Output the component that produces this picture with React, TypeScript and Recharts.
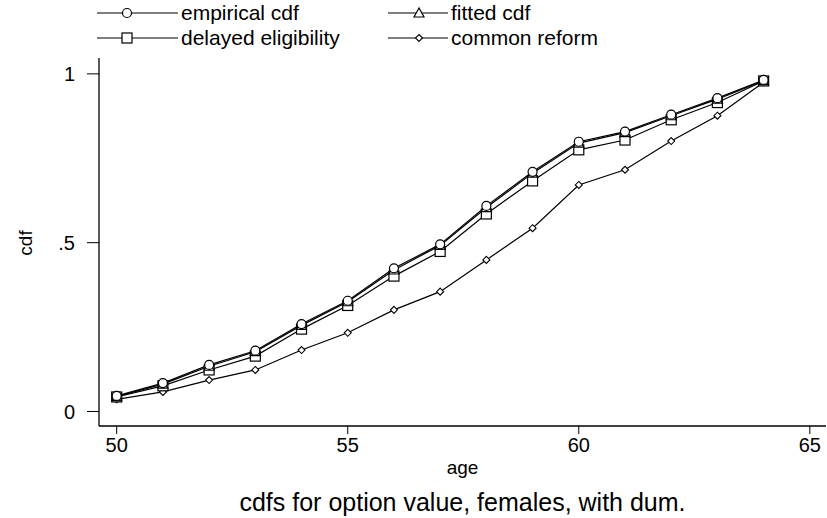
import React from 'react';
import { LineChart, Line, XAxis, YAxis } from 'recharts';

// ---------------------------------------------------------------------------
// data
// ---------------------------------------------------------------------------
const ages = [50, 51, 52, 53, 54, 55, 56, 57, 58, 59, 60, 61, 62, 63, 64];
const empirical = [0.046, 0.084, 0.138, 0.18, 0.259, 0.328, 0.424, 0.495, 0.609, 0.71, 0.799, 0.829, 0.879, 0.928, 0.982];
const fitted = [0.044, 0.081, 0.134, 0.177, 0.255, 0.325, 0.419, 0.492, 0.604, 0.706, 0.795, 0.826, 0.876, 0.925, 0.98];
const delayed = [0.043, 0.076, 0.123, 0.164, 0.244, 0.314, 0.401, 0.474, 0.585, 0.683, 0.775, 0.804, 0.864, 0.915, 0.979];
const reform = [0.036, 0.058, 0.093, 0.123, 0.182, 0.233, 0.301, 0.355, 0.449, 0.543, 0.671, 0.716, 0.801, 0.876, 0.975];

const xTicks = [50, 55, 60, 65];
const yTicks = [0, 0.5, 1];
const yTickLabels: Record<string, string> = { '0': '0', '0.5': '.5', '1': '1' };

const data = ages.map((age, i) => ({
  age,
  empirical: empirical[i],
  fitted: fitted[i],
  delayed: delayed[i],
  reform: reform[i],
}));

const FONT = '"Liberation Sans", Arial, Helvetica, sans-serif';
const FS = 20;
const LEGEND_FS = 21;
const CAPTION_FS = 25;

// ---------------------------------------------------------------------------
// marker shapes
// ---------------------------------------------------------------------------
const circle = (cx: number, cy: number, key?: any) => (
  <circle key={key} cx={cx} cy={cy} r={4.5} fill="#fff" stroke="#000" strokeWidth={1.2} />
);
const triangle = (cx: number, cy: number, key?: any) => (
  <polygon
    key={key}
    points={`${cx},${cy - 5} ${cx - 5},${cy + 4} ${cx + 5},${cy + 4}`}
    fill="#fff"
    stroke="#000"
    strokeWidth={1.2}
  />
);
const square = (cx: number, cy: number, key?: any) => (
  <rect key={key} x={cx - 5} y={cy - 5} width={10} height={10} fill="#fff" stroke="#000" strokeWidth={1.2} />
);
const diamond = (cx: number, cy: number, key?: any) => (
  <polygon
    key={key}
    points={`${cx},${cy - 3.5} ${cx + 3.5},${cy} ${cx},${cy + 3.5} ${cx - 3.5},${cy}`}
    fill="#fff"
    stroke="#000"
    strokeWidth={1.1}
  />
);

const dotOf = (shape: (cx: number, cy: number, key?: any) => React.ReactElement) => (p: any) =>
  shape(p.cx, p.cy, `${p.dataKey}-${p.index}`);

// ---------------------------------------------------------------------------
// legend (2 x 2 grid at the top)
// ---------------------------------------------------------------------------
const legendItems = [
  { label: 'empirical cdf', shape: circle, x1: 97, x2: 178, sx: 127, y: 13 },
  { label: 'fitted cdf', shape: triangle, x1: 388, x2: 448, sx: 419, y: 13 },
  { label: 'delayed eligibility', shape: square, x1: 97, x2: 178, sx: 127, y: 38 },
  { label: 'common reform', shape: diamond, x1: 388, x2: 448, sx: 419, y: 38 },
];

const TopLegend = () => (
  <svg width={827} height={54} style={{ position: 'absolute', left: 0, top: 0 }}>
    {legendItems.map((it) => (
      <g key={it.label}>
        <line x1={it.x1} x2={it.x2} y1={it.y} y2={it.y} stroke="#000" strokeWidth={1.2} />
        {it.shape(it.sx, it.y)}
        <text x={it.x2 + 3} y={it.y} dy="0.35em" fontSize={LEGEND_FS} fontFamily={FONT} fill="#000">
          {it.label}
        </text>
      </g>
    ))}
  </svg>
);

export default function App() {
  return (
    <div style={{ position: 'absolute', left: 0, top: 0, width: 827, height: 518, background: '#fff', fontFamily: FONT }}>
      <LineChart width={827} height={518} data={data} margin={{ top: 58, right: 1, bottom: 0, left: 0 }}>
        <XAxis
          dataKey="age"
          type="number"
          domain={[49.617, 65.35]}
          ticks={xTicks}
          allowDataOverflow
          height={92}
          tickSize={8}
          tickMargin={4}
          axisLine={{ stroke: '#000', strokeWidth: 1.3 }}
          tickLine={{ stroke: '#000' }}
          tick={{ fill: '#000', fontSize: FS, fontFamily: FONT }}
          label={{ value: 'age', position: 'insideBottom', offset: 44, fill: '#000', fontSize: 19, fontFamily: FONT }}
        />
        <YAxis
          type="number"
          domain={[-0.043, 1.047]}
          ticks={yTicks}
          allowDataOverflow
          width={99}
          tickSize={12}
          tickMargin={12}
          tickFormatter={(v: number) => yTickLabels[String(v)] ?? String(v)}
          axisLine={{ stroke: '#000', strokeWidth: 1.3 }}
          tickLine={{ stroke: '#000' }}
          tick={{ fill: '#000', fontSize: FS, fontFamily: FONT }}
        />
        <Line dataKey="reform" stroke="#000" strokeWidth={1.2} dot={dotOf(diamond)} isAnimationActive={false} />
        <Line dataKey="delayed" stroke="#000" strokeWidth={1.2} dot={dotOf(square)} isAnimationActive={false} />
        <Line dataKey="fitted" stroke="#000" strokeWidth={1.2} dot={dotOf(triangle)} isAnimationActive={false} />
        <Line dataKey="empirical" stroke="#000" strokeWidth={1.2} dot={dotOf(circle)} isAnimationActive={false} />
      </LineChart>
      <TopLegend />
      <div
        style={{
          position: 'absolute',
          left: 26,
          top: 243,
          transform: 'translate(-50%, -50%) rotate(-90deg)',
          fontSize: 19,
          color: '#000',
          whiteSpace: 'nowrap',
        }}
      >
        cdf
      </div>
      <div
        style={{
          position: 'absolute',
          left: 0,
          width: 925,
          top: 488,
          textAlign: 'center',
          fontSize: CAPTION_FS,
          color: '#000',
          whiteSpace: 'nowrap',
        }}
      >
        cdfs for option value, females, with dum.
      </div>
    </div>
  );
}
